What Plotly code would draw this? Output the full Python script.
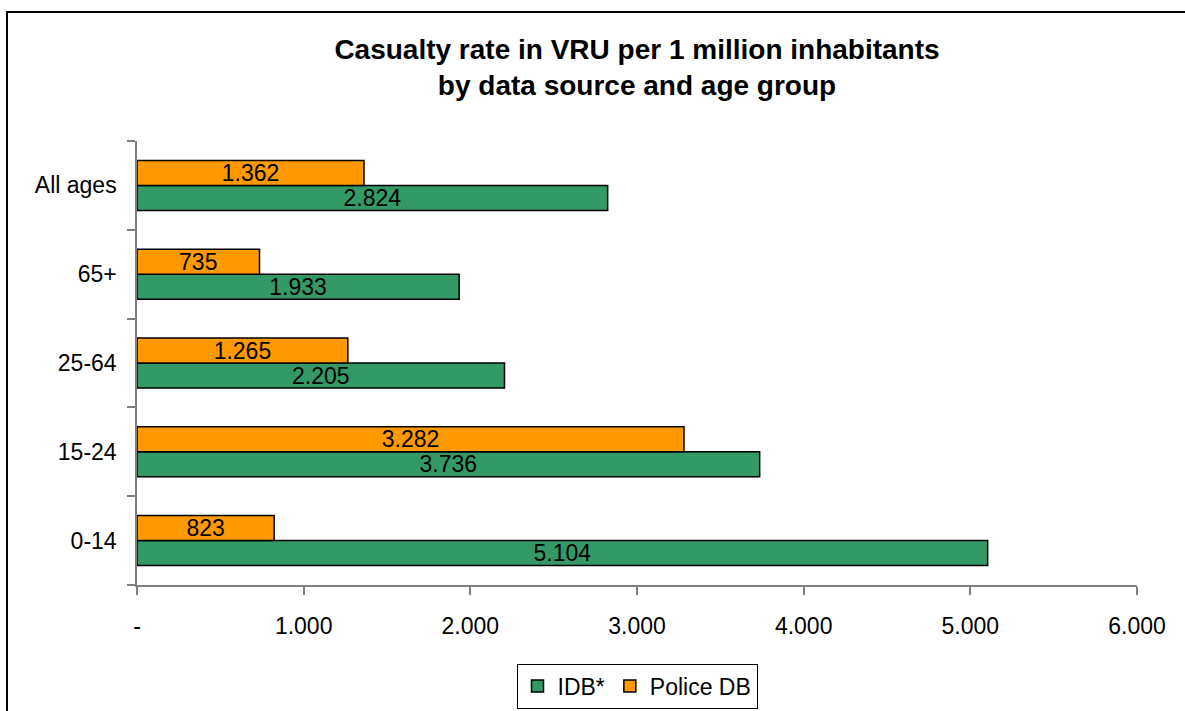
import plotly.graph_objects as go

# Age groups, bottom to top
age_groups = ["0-14", "15-24", "25-64", "65+", "All ages"]
idb_values = [5104, 3736, 2205, 1933, 2824]
police_values = [823, 3282, 1265, 735, 1362]

x_tick_values = [0, 1000, 2000, 3000, 4000, 5000, 6000]
x_tick_labels = ["-", "1.000", "2.000", "3.000", "4.000", "5.000", "6.000"]

font_family = "Liberation Sans, Arial, sans-serif"
label_size = 23

fig = go.Figure()
fig.add_trace(go.Bar(
    name="IDB*", y=age_groups, x=idb_values, orientation="h",
    marker=dict(color="#339966", line=dict(color="#000000", width=1.5)),
    texttemplate="%{x:,}", textposition="inside", insidetextanchor="middle",
    textfont=dict(color="#000000", size=label_size, family=font_family),
    constraintext="none",
))
fig.add_trace(go.Bar(
    name="Police DB", y=age_groups, x=police_values, orientation="h",
    marker=dict(color="#FF9900", line=dict(color="#000000", width=1.5)),
    texttemplate="%{x:,}", textposition="inside", insidetextanchor="middle",
    textfont=dict(color="#000000", size=label_size, family=font_family),
    constraintext="none",
))

fig.update_layout(
    width=1185, height=711,
    margin=dict(l=137, r=48, t=141, b=126, autoexpand=False),
    paper_bgcolor="white", plot_bgcolor="white",
    separators=",.",
    barmode="group", bargap=0.437, bargroupgap=0,
    font=dict(family=font_family, size=label_size, color="#000000"),
    title=dict(
        text="<b>Casualty rate in VRU per 1 million inhabitants<br>by data source and age group</b>",
        x=0.5, xref="paper", xanchor="center",
        y=0.917, yref="container", yanchor="top",
        font=dict(size=28, family=font_family, color="#000000"),
    ),
    legend=dict(
        orientation="h", x=0.5, xanchor="center", xref="paper",
        y=-0.177, yanchor="top", yref="paper",
        bordercolor="#000000", borderwidth=1,
        font=dict(size=label_size, family=font_family),
        traceorder="normal", itemwidth=30,
    ),
    showlegend=True,
)

fig.update_xaxes(
    range=[0, 6000], tickvals=x_tick_values, ticktext=x_tick_labels,
    showgrid=False, zeroline=False,
    showline=True, linecolor="#808080", linewidth=1.5,
    ticks="outside", ticklen=8, tickcolor="#808080", tickwidth=1.5,
    tickfont=dict(size=label_size), ticklabelstandoff=12,
)
fig.update_yaxes(
    showgrid=False, zeroline=False,
    showline=True, linecolor="#808080", linewidth=1.5,
    ticks="outside", ticklen=8, tickcolor="#808080", tickwidth=1.5,
    tickson="boundaries", tickfont=dict(size=label_size),
    ticklabelstandoff=14,
)

# Outer chart frame
fig.add_shape(
    type="rect", xref="paper", yref="paper",
    x0=-0.13, x1=1.06, y0=-0.32, y1=(585 - 12) / 444,
    line=dict(color="#000000", width=2), fillcolor="rgba(0,0,0,0)",
    layer="below",
)

fig.write_html("out.html")
